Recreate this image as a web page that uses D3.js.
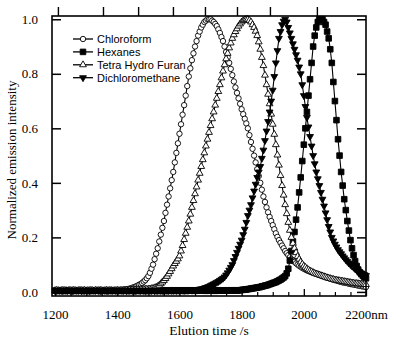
<!DOCTYPE html>
<html><head><meta charset="utf-8">
<script src="https://cdn.jsdelivr.net/npm/d3@7"></script>
<style>html,body{margin:0;padding:0;background:#fff;} svg{display:block;}</style>
</head><body><svg id="c" width="407" height="338"></svg>
<script>
// ---------- data ----------
const seriesNames = ["Chloroform", "Hexanes", "Tetra Hydro Furan", "Dichloromethane"];
const xTicks = [1200, 1400, 1600, 1800, 2000, 2200];
const xTickLabels = ["1200", "1400", "1600", "1800", "2000", "2200nm"];
const xMinorTicks = [1250, 1300, 1350, 1450, 1500, 1550, 1650, 1700, 1750, 1850, 1900, 1950, 2050, 2100, 2150];
const yTicks = [0, 0.2, 0.4, 0.6, 0.8, 1.0];
const yTickLabels = ["0.0", "0.2", "0.4", "0.6", "0.8", "1.0"];
const topTicks = [1209, 1354, 1467, 1579, 1682, 1785, 1891, 2042];
const timeStart = 1200, timeStep = 5; // elution time sampling (s)

const chloroform = [
0.005,0.006,0.004,0.005,0.006,0.005,0.004,0.005,0.006,0.005,
0.005,0.004,0.006,0.005,0.005,0.006,0.004,0.005,0.005,0.006,
0.005,0.004,0.005,0.006,0.005,0.005,0.004,0.006,0.005,0.005,
0.006,0.005,0.004,0.005,0.006,0.005,0.005,0.006,0.005,0.006,
0.006,0.006,0.007,0.007,0.008,0.009,0.010,0.011,0.012,0.014,
0.016,0.018,0.020,0.023,0.026,0.029,0.033,0.038,0.043,0.050,
0.058,0.070,0.085,0.100,0.120,0.140,0.160,0.185,0.210,0.235,
0.260,0.290,0.320,0.350,0.380,0.410,0.440,0.475,0.510,0.545,
0.580,0.615,0.650,0.685,0.720,0.755,0.790,0.820,0.850,0.875,
0.900,0.920,0.940,0.955,0.970,0.980,0.990,0.995,1.000,1.000,
1.000,0.995,0.990,0.983,0.975,0.963,0.950,0.935,0.920,0.900,
0.880,0.860,0.840,0.818,0.795,0.772,0.750,0.730,0.710,0.690,
0.670,0.652,0.635,0.618,0.600,0.575,0.550,0.525,0.500,0.475,
0.450,0.425,0.400,0.375,0.350,0.330,0.310,0.292,0.275,0.260,
0.245,0.230,0.215,0.202,0.190,0.180,0.170,0.160,0.150,0.142,
0.135,0.127,0.120,0.115,0.110,0.105,0.100,0.096,0.092,0.088,
0.085,0.082,0.079,0.077,0.075,0.073,0.071,0.069,0.067,0.065,
0.063,0.061,0.059,0.057,0.055,0.053,0.051,0.049,0.047,0.045,
0.043,0.042,0.040,0.038,0.037,0.035,0.034,0.033,0.032,0.030,
0.029,0.028,0.027,0.026,0.025,0.023,0.022,0.021,0.020,0.019,
0.018];

const hexanes = [
0.005,0.004,0.006,0.005,0.005,0.006,0.005,0.004,0.005,0.006,
0.005,0.005,0.004,0.006,0.005,0.005,0.006,0.005,0.004,0.005,
0.006,0.005,0.005,0.004,0.005,0.006,0.005,0.005,0.006,0.004,
0.005,0.005,0.006,0.005,0.004,0.005,0.006,0.005,0.005,0.004,
0.006,0.005,0.005,0.006,0.004,0.005,0.005,0.006,0.005,0.005,
0.004,0.006,0.005,0.005,0.006,0.005,0.004,0.005,0.006,0.005,
0.005,0.004,0.005,0.006,0.005,0.005,0.006,0.004,0.005,0.005,
0.006,0.005,0.004,0.005,0.006,0.005,0.005,0.006,0.005,0.004,
0.005,0.006,0.005,0.005,0.004,0.006,0.005,0.005,0.006,0.005,
0.004,0.005,0.006,0.005,0.005,0.006,0.005,0.004,0.005,0.006,
0.005,0.005,0.006,0.004,0.005,0.006,0.005,0.005,0.006,0.005,
0.005,0.006,0.005,0.006,0.005,0.006,0.006,0.005,0.006,0.006,
0.007,0.008,0.008,0.009,0.010,0.011,0.012,0.013,0.014,0.015,
0.016,0.017,0.018,0.020,0.021,0.023,0.024,0.026,0.028,0.030,
0.032,0.034,0.036,0.039,0.042,0.045,0.049,0.053,0.058,0.068,
0.085,0.115,0.150,0.185,0.220,0.265,0.310,0.365,0.420,0.480,
0.540,0.600,0.660,0.720,0.780,0.840,0.900,0.940,0.970,0.990,
1.000,1.000,1.000,0.990,0.980,0.955,0.930,0.890,0.840,0.770,
0.700,0.630,0.560,0.500,0.440,0.390,0.340,0.300,0.260,0.225,
0.190,0.160,0.135,0.113,0.095,0.082,0.072,0.065,0.059,0.054,
0.050];

const thf = [
0.005,0.006,0.005,0.004,0.005,0.006,0.005,0.005,0.004,0.006,
0.005,0.005,0.006,0.005,0.004,0.005,0.006,0.005,0.005,0.006,
0.004,0.005,0.005,0.006,0.005,0.004,0.006,0.005,0.005,0.006,
0.005,0.004,0.005,0.006,0.005,0.005,0.006,0.004,0.005,0.005,
0.006,0.005,0.005,0.006,0.005,0.006,0.006,0.006,0.007,0.007,
0.007,0.007,0.008,0.008,0.008,0.009,0.009,0.009,0.010,0.010,
0.010,0.011,0.012,0.013,0.015,0.017,0.020,0.024,0.030,0.036,
0.042,0.049,0.057,0.066,0.075,0.085,0.095,0.104,0.112,0.121,
0.132,0.150,0.170,0.192,0.215,0.237,0.260,0.285,0.310,0.335,
0.360,0.385,0.410,0.435,0.460,0.485,0.510,0.535,0.560,0.585,
0.610,0.635,0.660,0.685,0.710,0.735,0.760,0.785,0.810,0.833,
0.855,0.875,0.895,0.913,0.930,0.943,0.955,0.965,0.975,0.983,
0.990,0.995,0.998,1.000,1.000,0.996,0.990,0.980,0.970,0.956,
0.940,0.917,0.890,0.860,0.830,0.795,0.760,0.725,0.690,0.652,
0.615,0.578,0.540,0.502,0.465,0.427,0.390,0.355,0.320,0.287,
0.255,0.226,0.200,0.178,0.160,0.144,0.130,0.120,0.110,0.102,
0.095,0.090,0.085,0.081,0.077,0.074,0.071,0.068,0.066,0.064,
0.062,0.060,0.058,0.056,0.054,0.052,0.050,0.049,0.047,0.046,
0.044,0.043,0.042,0.041,0.040,0.039,0.038,0.037,0.036,0.035,
0.034,0.033,0.032,0.031,0.031,0.030,0.029,0.029,0.028,0.028,
0.027];

const dcm = [
0.004,0.005,0.006,0.005,0.005,0.004,0.006,0.005,0.005,0.006,
0.005,0.004,0.005,0.006,0.005,0.005,0.006,0.004,0.005,0.005,
0.006,0.005,0.004,0.005,0.006,0.005,0.005,0.006,0.005,0.004,
0.005,0.006,0.005,0.005,0.004,0.006,0.005,0.005,0.006,0.005,
0.004,0.005,0.006,0.005,0.005,0.006,0.004,0.005,0.005,0.006,
0.005,0.005,0.004,0.006,0.005,0.005,0.006,0.005,0.004,0.005,
0.006,0.005,0.005,0.006,0.004,0.005,0.005,0.006,0.005,0.005,
0.004,0.006,0.005,0.005,0.006,0.005,0.005,0.006,0.005,0.006,
0.005,0.006,0.006,0.005,0.006,0.006,0.006,0.007,0.006,0.007,
0.007,0.008,0.009,0.010,0.011,0.012,0.014,0.016,0.018,0.020,
0.023,0.026,0.029,0.032,0.035,0.038,0.042,0.046,0.050,0.055,
0.062,0.070,0.080,0.090,0.100,0.115,0.130,0.145,0.160,0.175,
0.190,0.210,0.230,0.255,0.280,0.300,0.320,0.345,0.370,0.395,
0.420,0.440,0.460,0.490,0.520,0.555,0.590,0.625,0.660,0.700,
0.740,0.790,0.840,0.885,0.930,0.955,0.980,0.993,1.000,0.990,
0.970,0.950,0.930,0.910,0.890,0.870,0.850,0.825,0.800,0.760,
0.720,0.680,0.640,0.605,0.570,0.535,0.500,0.470,0.440,0.415,
0.390,0.365,0.340,0.315,0.290,0.265,0.240,0.220,0.200,0.187,
0.175,0.165,0.155,0.147,0.140,0.132,0.125,0.118,0.112,0.106,
0.100,0.095,0.090,0.085,0.080,0.076,0.072,0.069,0.066,0.063,
0.060];

const seriesValues = [chloroform, hexanes, thf, dcm];
const markerTypes = ["circle", "square", "triUp", "triDown"];

// ---------- drawing ----------
(function () {
const svg = d3.select("#c");
const serif = "'Liberation Serif','Times New Roman',serif";
const sans = "'Liberation Sans',Arial,sans-serif";

const x = d3.scaleLinear().domain([1190, 2200]).range([52, 366]);
const y = d3.scaleLinear().domain([-0.015, 1.012]).range([296, 16]);

function markerPath(type, s) {
  const p = d3.path();
  if (type === "square") {
    p.rect(-s / 2, -s / 2, s, s);
  } else if (type === "triUp" || type === "triDown") {
    const h = s * Math.sqrt(3) / 2, d = type === "triUp" ? 1 : -1;
    p.moveTo(0, -d * h * 2 / 3);
    p.lineTo(s / 2, d * h / 3);
    p.lineTo(-s / 2, d * h / 3);
    p.closePath();
  } else {
    p.arc(0, 0, s / 2, 0, 2 * Math.PI);
  }
  return p.toString();
}
const markerSize = { circle: 5.4, square: 5.6, triUp: 6.8, triDown: 6.8 };
const markerFill = { circle: "#fff", square: "#000", triUp: "#fff", triDown: "#000" };

function drawMarker(g, type, cx, cy) {
  g.append("path")
    .attr("d", markerPath(type, markerSize[type]))
    .attr("transform", `translate(${cx},${cy})`)
    .attr("fill", markerFill[type])
    .attr("stroke", "#000")
    .attr("stroke-width", 0.9);
}

const plot = svg.append("g");
seriesValues.forEach((vals, si) => {
  const pts = vals.map((v, i) => [timeStart + i * timeStep, v]);
  const g = plot.append("g");
  g.append("path")
    .datum(pts)
    .attr("d", d3.line().x(d => x(d[0])).y(d => y(d[1])))
    .attr("fill", "none").attr("stroke", "#000").attr("stroke-width", 1.1);
  pts.forEach(d => drawMarker(g, markerTypes[si], x(d[0]), y(d[1])));
});

const [x0, x1] = x.range();
const [y0, y1] = y.range();
svg.append("rect").attr("x", x0).attr("y", y1).attr("width", x1 - x0).attr("height", y0 - y1)
  .attr("fill", "none").attr("stroke", "#000").attr("stroke-width", 1.6);

const leftAx = svg.append("g").attr("transform", `translate(${x0},0)`)
  .call(d3.axisLeft(y).tickValues(yTicks).tickSize(-9).tickPadding(14)
    .tickFormat((d, i) => yTickLabels[i]));
leftAx.select(".domain").remove();
leftAx.selectAll("line").attr("stroke-width", 1.5);
leftAx.selectAll("text").attr("font-family", serif).attr("font-size", 13).attr("fill", "#000");

const rightAx = svg.append("g").attr("transform", `translate(${x1},0)`)
  .call(d3.axisRight(y).tickValues(yTicks).tickSize(-9).tickFormat(""));
rightAx.select(".domain").remove();
rightAx.selectAll("line").attr("stroke-width", 1.5);

const bottomAx = svg.append("g").attr("transform", `translate(0,${y0})`)
  .call(d3.axisBottom(x).tickValues(xTicks).tickSize(-7).tickPadding(14)
    .tickFormat((d, i) => xTickLabels[i]));
bottomAx.select(".domain").remove();
bottomAx.selectAll("line").attr("stroke-width", 1.3);
bottomAx.selectAll("text").attr("font-family", serif).attr("font-size", 13).attr("fill", "#000");
const bottomMinor = svg.append("g").attr("transform", `translate(0,${y0})`)
  .call(d3.axisBottom(x).tickValues(xMinorTicks).tickSize(-4).tickFormat(""));
bottomMinor.select(".domain").remove();
bottomMinor.selectAll("line").attr("stroke-width", 1.2);

const topAx = svg.append("g").attr("transform", `translate(0,${y1})`)
  .call(d3.axisTop(x).tickValues(topTicks).tickSize(9).tickFormat(""));
topAx.select(".domain").remove();
topAx.selectAll("line").attr("stroke-width", 1.4);

svg.append("text").attr("x", (x0 + x1) / 2).attr("y", 335)
  .attr("text-anchor", "middle").attr("font-family", serif).attr("font-size", 13.5)
  .text("Elution time /s");
svg.append("text").attr("transform", "translate(16,160) rotate(-90)")
  .attr("text-anchor", "middle").attr("font-family", serif).attr("font-size", 13)
  .text("Normalized emission intensity");

const legend = svg.append("g");
seriesNames.forEach((name, i) => {
  const cy = 39 + i * 12.9;
  legend.append("line").attr("x1", 73).attr("x2", 93).attr("y1", cy).attr("y2", cy)
    .attr("stroke", "#000").attr("stroke-width", 1.3);
  drawMarker(legend, markerTypes[i], 83, cy);
  legend.append("text").attr("x", 97).attr("y", cy + 4)
    .attr("font-family", sans).attr("font-size", 11).text(name);
});
})();
</script>
</body></html>
